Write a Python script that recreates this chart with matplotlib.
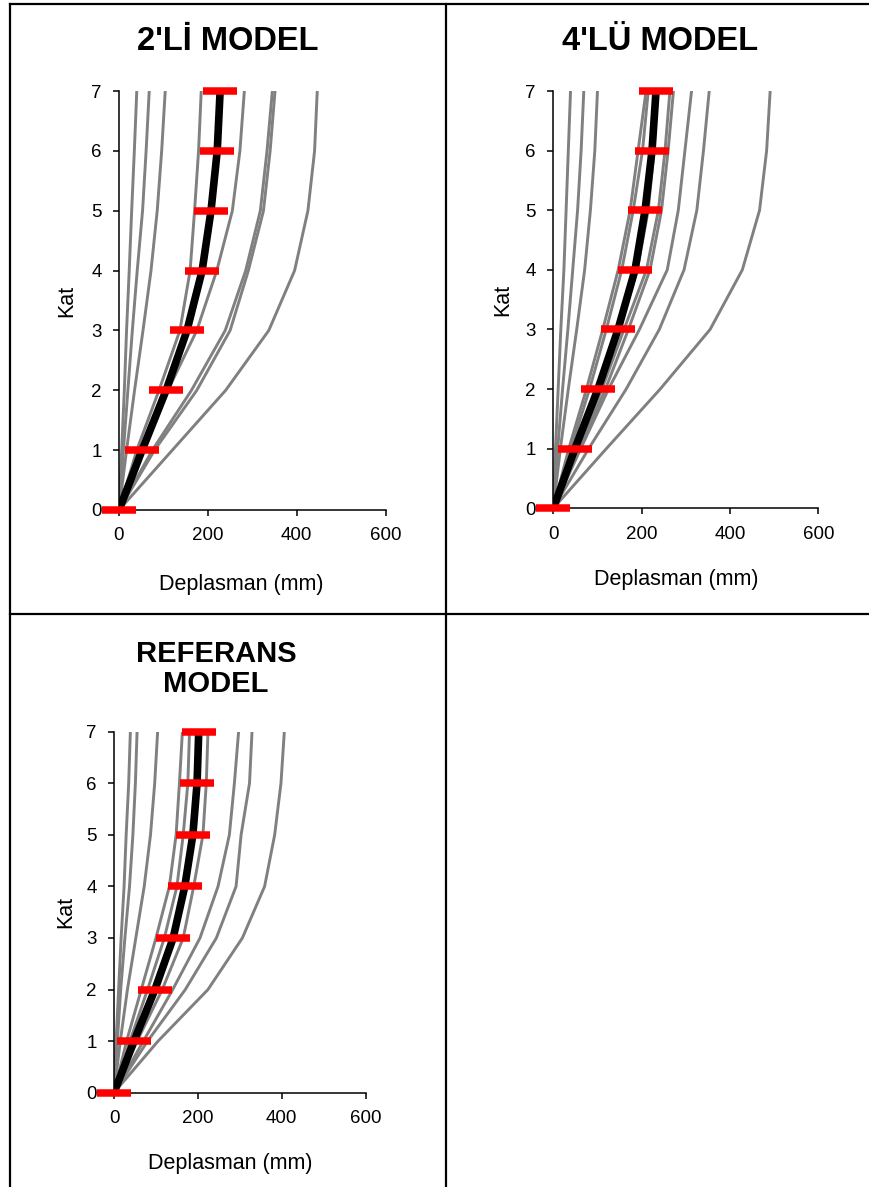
import matplotlib
matplotlib.use("Agg")
import matplotlib.pyplot as plt
from matplotlib.lines import Line2D

plt.rcParams['font.family'] = ['Liberation Sans', 'DejaVu Sans']

floors = [0, 1, 2, 3, 4, 5, 6, 7]
xticks = [0, 200, 400, 600]

# 2'Li model: individual records (mm)
m2_records = [
    [0, 6, 12, 17, 23, 28.5, 34.5, 40],
    [0, 10, 20, 30, 41, 53, 61, 68],
    [0, 17, 35, 54, 72, 86, 96, 104],
    [0, 40, 90, 137, 160, 170, 179, 185],
    [0, 50, 110, 175, 220, 255, 272, 282],
    [0, 75, 163, 239, 285, 318, 333, 345],
    [0, 80, 175, 250, 291, 325, 340, 351],
    [0, 120, 240, 337, 395, 425, 440, 446],
]
m2_mean = [0, 52, 106, 153, 187, 207, 221, 227.5]

# 4'LU model
m4_records = [
    [0, 5, 11, 17, 24, 29, 34, 39],
    [0, 10, 21, 33, 44, 55, 63, 69],
    [0, 16, 34, 53, 71, 84, 94, 100],
    [0, 35, 75, 112, 147, 174, 192, 210],
    [0, 40, 82, 120, 155, 181, 202, 215],
    [0, 50, 100, 150, 190, 215, 228, 235],
    [0, 55, 110, 160, 211, 238, 253, 264],
    [0, 58, 118, 170, 219, 245, 260, 272],
    [0, 62, 125, 195, 258, 283, 298, 313],
    [0, 80, 165, 240, 296, 325, 340, 353],
    [0, 120, 242, 355, 428, 467, 483, 491],
]
m4_mean = [0, 49, 101, 146.5, 185, 207.7, 223.5, 232.6]

# Referans model
ref_records = [
    [0, 5, 11, 17, 24, 29, 35, 39],
    [0, 8, 16, 26, 37, 45, 51, 55],
    [0, 15, 32, 52, 72, 87, 97, 104],
    [0, 30, 65, 100, 132, 148, 156, 163],
    [0, 38, 80, 120, 150, 165, 176, 180],
    [0, 55, 115, 165, 190, 212, 220, 224],
    [0, 70, 140, 205, 248, 275, 287, 297],
    [0, 80, 170, 244, 291, 303, 323, 329],
    [0, 105, 224, 306, 359, 383, 398, 406],
]
ref_mean = [0, 47.6, 97.6, 141, 168.7, 188, 198, 202]

W, H = 870, 1187
fig = plt.figure(figsize=(W / 100, H / 100), dpi=100)


def rect(l, t, r, b):
    return [l / W, 1 - b / H, (r - l) / W, (b - t) / H]


def draw_panel(pos, records, mean, xlab_xy, ylab_xy):
    ax = fig.add_axes(rect(*pos))
    for rec in records:
        ax.plot(rec, floors, color='#808080', lw=2.1, zorder=2, solid_joinstyle='round')
    ax.plot(mean, floors, color='black', lw=5.5, zorder=3)
    ax.plot(mean, floors, ls='none', marker='_', ms=24.5, mew=5.4,
            color='#FF0000', zorder=4, clip_on=False)
    ax.set_xlim(0, 600)
    ax.set_ylim(0, 7)
    ax.set_xticks(xticks)
    ax.set_yticks(floors)
    for s in ['top', 'right']:
        ax.spines[s].set_visible(False)
    for s in ['left', 'bottom']:
        ax.spines[s].set_linewidth(1.1)
    ax.tick_params(direction='out', length=4.5, width=1.1, labelsize=13.5)
    ax.tick_params(axis='x', pad=8)
    ax.tick_params(axis='y', pad=8)
    ax.set_xlabel('Deplasman (mm)', fontsize=15.5)
    ax.set_ylabel('Kat', fontsize=15.5)
    l, t, r, b = pos
    ax.xaxis.set_label_coords((xlab_xy[0] - l) / (r - l), (b - xlab_xy[1]) / (b - t))
    ax.xaxis.label.set_va('center')
    ax.yaxis.set_label_coords((ylab_xy[0] - l) / (r - l), (b - ylab_xy[1]) / (b - t))
    ax.yaxis.label.set_va('center')
    return ax


draw_panel((119, 91, 385.7, 510), m2_records, m2_mean, (241, 585), (67, 301))
draw_panel((553.3, 91, 818.3, 508.3), m4_records, m4_mean, (676, 580), (503, 300))
draw_panel((114, 731.7, 365.7, 1092.7), ref_records, ref_mean, (230, 1163), (66, 912))

fig.text(228 / W, 1 - 42 / H, "2'Lİ MODEL", fontsize=23.5, fontweight='bold',
         ha='center', va='center')
fig.text(660 / W, 1 - 42 / H, "4'LÜ MODEL", fontsize=23.5, fontweight='bold',
         ha='center', va='center')
fig.text(216 / W, 1 - 669 / H, "REFERANS\nMODEL", fontsize=21, fontweight='bold',
         ha='center', va='center', linespacing=1.12)

# table borders
def hline(y, x0, x1):
    fig.add_artist(Line2D([x0 / W, x1 / W], [1 - y / H, 1 - y / H], color='black',
                          lw=1.6, transform=fig.transFigure))


def vline(x, y0, y1):
    fig.add_artist(Line2D([x / W, x / W], [1 - y0 / H, 1 - y1 / H], color='black',
                          lw=1.6, transform=fig.transFigure))


hline(4, 10, 870)
hline(614, 10, 870)
vline(10, 4, 1187)
vline(446, 4, 1187)

fig.savefig('out.png', dpi=100)
